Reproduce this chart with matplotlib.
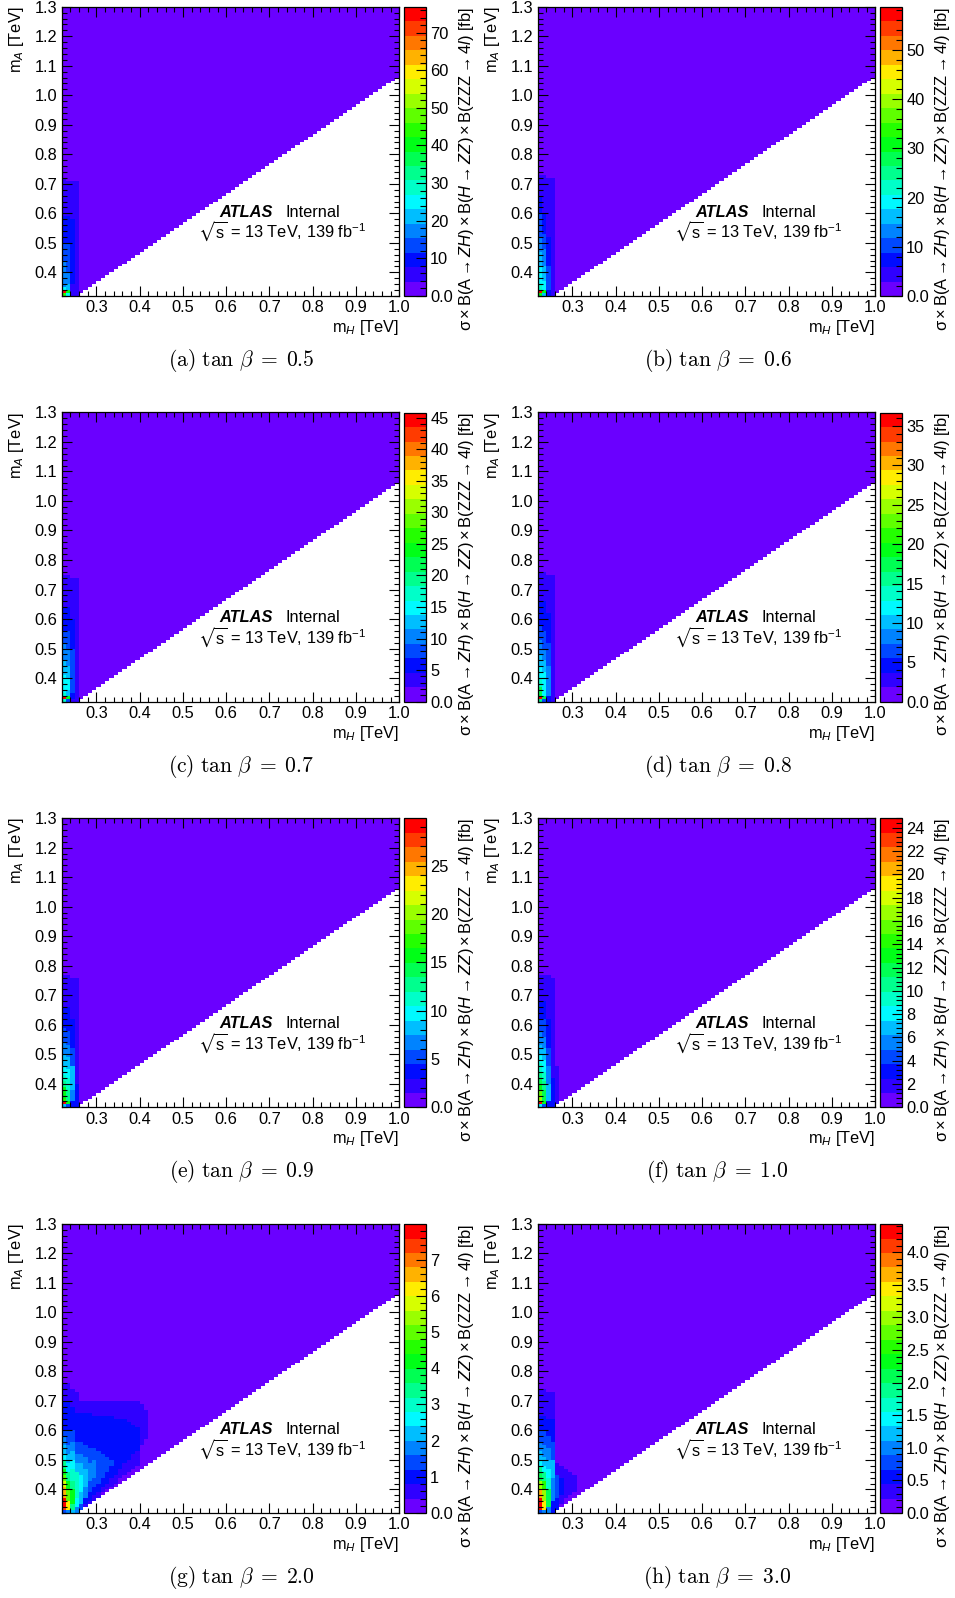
import numpy as np
import matplotlib
matplotlib.use("Agg")
import matplotlib.pyplot as plt
from matplotlib.colors import ListedColormap, BoundaryNorm, hsv_to_rgb
from matplotlib.ticker import MultipleLocator, FixedLocator

plt.rcParams['font.family'] = ['Liberation Sans', 'DejaVu Sans']
plt.rcParams['mathtext.fontset'] = 'custom'
plt.rcParams['mathtext.rm'] = 'Liberation Sans'
plt.rcParams['mathtext.it'] = 'Liberation Sans:italic'
plt.rcParams['mathtext.bf'] = 'Liberation Sans:bold'
plt.rcParams['mathtext.sf'] = 'Liberation Sans'
plt.rcParams['mathtext.fallback'] = 'stixsans'

# ---------------- data ----------------
TAGS = ['a', 'b', 'c', 'd', 'e', 'f', 'g', 'h']
TAN_BETA = ['0.5', '0.6', '0.7', '0.8', '0.9', '1.0', '2.0', '3.0']
Z_MAX = [76.8, 58.7, 45.8, 36.7, 29.9, 24.8, 7.98, 4.43]

CB_TICKS = [
    [0, 10, 20, 30, 40, 50, 60, 70],
    [0, 10, 20, 30, 40, 50],
    [0, 5, 10, 15, 20, 25, 30, 35, 40, 45],
    [0, 5, 10, 15, 20, 25, 30, 35],
    [0, 5, 10, 15, 20, 25],
    [0, 2, 4, 6, 8, 10, 12, 14, 16, 18, 20, 22, 24],
    [0, 1, 2, 3, 4, 5, 6, 7],
    [0, 0.5, 1.0, 1.5, 2.0, 2.5, 3.0, 3.5, 4.0],
]
CB_LABELS = [
    ['0.0', '10', '20', '30', '40', '50', '60', '70'],
    ['0.0', '10', '20', '30', '40', '50'],
    ['0.0', '5', '10', '15', '20', '25', '30', '35', '40', '45'],
    ['0.0', '5', '10', '15', '20', '25', '30', '35'],
    ['0.0', '5', '10', '15', '20', '25'],
    ['0.0', '2', '4', '6', '8', '10', '12', '14', '16', '18', '20', '22', '24'],
    ['0.0', '1', '2', '3', '4', '5', '6', '7'],
    ['0.0', '0.5', '1.0', '1.5', '2.0', '2.5', '3.0', '3.5', '4.0'],
]
CB_MINOR = [2, 2, 1, 1, 1, 0.4, 0.2, 0.1]

X_TICKS = [0.3, 0.4, 0.5, 0.6, 0.7, 0.8, 0.9, 1.0]
Y_TICKS = [0.4, 0.5, 0.6, 0.7, 0.8, 0.9, 1.0, 1.1, 1.2, 1.3]

# grid of the 2D histogram (TeV)
MH_EDGES = np.round(0.22 + 0.01 * np.arange(79), 3)
MA_EDGES = np.round(0.32 + 0.01 * np.arange(99), 3)
MASS_GAP = 0.065   # minimal m_A - m_H of filled cells

# column profiles: (m_H low edge, [(m_A upper edge, value in fb), ...]); rest is ~0
PROFILE_A = [
    (0.22, [(0.33, 44.0), (0.34, 75.0), (0.35, 25.0), (0.44, 19.0), (0.50, 13.4), (0.59, 9.6), (0.72, 5.8)]),
    (0.23, [(0.33, 25.0), (0.34, 40.0), (0.36, 21.0), (0.40, 17.3), (0.50, 13.4), (0.59, 9.6), (0.71, 5.8)]),
    (0.24, [(0.36, 5.8), (0.58, 9.6), (0.71, 5.8)]),
    (0.25, [(0.71, 5.8)]),
]
PROFILE_B = [
    (0.22, [(0.33, 31.0), (0.34, 57.0), (0.36, 22.0), (0.42, 19.1), (0.47, 16.1), (0.52, 13.2), (0.60, 10.3), (0.66, 7.3), (0.73, 4.4)]),
    (0.23, [(0.33, 16.1), (0.34, 31.0), (0.37, 19.1), (0.42, 16.1), (0.48, 13.2), (0.53, 10.3), (0.60, 7.3), (0.73, 4.4)]),
    (0.24, [(0.34, 7.3), (0.42, 10.3), (0.52, 7.3), (0.72, 4.4)]),
    (0.25, [(0.72, 4.4)]),
]
PROFILE_C = [
    (0.22, [(0.33, 17.2), (0.34, 44.7), (0.35, 17.2), (0.41, 14.9), (0.46, 12.6), (0.52, 10.3), (0.56, 8.0), (0.64, 5.7), (0.75, 3.4)]),
    (0.23, [(0.33, 8.0), (0.34, 24.0), (0.36, 12.6), (0.40, 14.9), (0.44, 12.6), (0.50, 10.3), (0.56, 8.0), (0.64, 5.7), (0.75, 3.4)]),
    (0.24, [(0.33, 3.4), (0.35, 5.7), (0.50, 8.0), (0.60, 5.7), (0.74, 3.4)]),
    (0.25, [(0.74, 3.4)]),
]
PROFILE_D = [
    (0.22, [(0.33, 15.6), (0.34, 35.8), (0.37, 17.4), (0.40, 13.8), (0.44, 11.9), (0.48, 10.1), (0.53, 8.3), (0.58, 6.4), (0.66, 4.6), (0.76, 2.75)]),
    (0.23, [(0.33, 6.4), (0.34, 17.4), (0.42, 11.9), (0.46, 10.1), (0.50, 8.3), (0.56, 6.4), (0.66, 4.6), (0.76, 2.75)]),
    (0.24, [(0.34, 4.6), (0.44, 8.3), (0.52, 6.4), (0.62, 4.6), (0.75, 2.75)]),
    (0.25, [(0.75, 2.75)]),
]
PROFILE_E = [
    (0.22, [(0.33, 8.2), (0.34, 29.2), (0.35, 17.2), (0.39, 15.7), (0.41, 12.7), (0.43, 11.2), (0.46, 9.7), (0.50, 8.2), (0.54, 6.7), (0.59, 5.2), (0.66, 3.7), (0.77, 2.2)]),
    (0.23, [(0.33, 5.2), (0.34, 15.7), (0.38, 12.7), (0.42, 11.2), (0.45, 9.7), (0.49, 8.2), (0.53, 6.7), (0.58, 5.2), (0.66, 3.7), (0.77, 2.2)]),
    (0.24, [(0.34, 3.7), (0.38, 6.7), (0.46, 8.2), (0.52, 5.2), (0.62, 3.7), (0.76, 2.2)]),
    (0.25, [(0.40, 3.7), (0.76, 2.2)]),
]
PROFILE_F = [
    (0.22, [(0.33, 8.1), (0.34, 24.2), (0.36, 16.7), (0.38, 15.5), (0.40, 13.0), (0.42, 11.8), (0.44, 10.5), (0.47, 9.3), (0.50, 8.1), (0.53, 6.8), (0.58, 5.6), (0.62, 4.3), (0.68, 3.1), (0.77, 1.9)]),
    (0.23, [(0.33, 4.3), (0.34, 13.0), (0.38, 11.8), (0.41, 10.5), (0.44, 9.3), (0.48, 8.1), (0.52, 6.8), (0.56, 5.6), (0.62, 4.3), (0.68, 3.1), (0.77, 1.9)]),
    (0.24, [(0.34, 3.1), (0.40, 6.8), (0.46, 5.6), (0.52, 4.3), (0.62, 3.1), (0.77, 1.9)]),
    (0.25, [(0.42, 3.1), (0.76, 1.9)]),
    (0.26, [(0.46, 1.9)]),
]
PROFILE_G = [
    (0.22, [(0.33, 1.4), (0.34, 7.4), (0.37, 7.8), (0.41, 6.6), (0.43, 5.8), (0.45, 5.0), (0.47, 4.2), (0.50, 3.4), (0.52, 2.6), (0.55, 2.2), (0.58, 1.8), (0.60, 1.4), (0.70, 1.0), (0.76, 0.6)]),
    (0.23, [(0.33, 1.8), (0.36, 6.2), (0.40, 5.0), (0.43, 4.2), (0.46, 3.4), (0.49, 2.6), (0.52, 2.2), (0.55, 1.8), (0.60, 1.4), (0.70, 1.0), (0.76, 0.6)]),
    (0.24, [(0.33, 2.2), (0.35, 3.4), (0.40, 4.2), (0.43, 3.4), (0.47, 3.0), (0.50, 2.6), (0.53, 2.2), (0.56, 1.8), (0.60, 1.4), (0.68, 1.0), (0.74, 0.6)]),
    (0.25, [(0.34, 1.8), (0.37, 2.6), (0.42, 3.0), (0.46, 2.8), (0.49, 2.2), (0.52, 1.8), (0.56, 1.4), (0.66, 1.0), (0.73, 0.6)]),
    (0.26, [(0.35, 1.4), (0.39, 2.2), (0.45, 2.6), (0.49, 2.2), (0.52, 1.8), (0.56, 1.4), (0.66, 1.0), (0.70, 0.6)]),
    (0.27, [(0.35, 0.6), (0.37, 1.0), (0.41, 1.8), (0.47, 2.2), (0.51, 1.8), (0.55, 1.4), (0.66, 1.0), (0.70, 0.6)]),
    (0.28, [(0.36, 0.6), (0.39, 1.0), (0.43, 1.4), (0.49, 1.8), (0.54, 1.4), (0.66, 1.0), (0.70, 0.6)]),
    (0.29, [(0.38, 0.6), (0.41, 1.0), (0.44, 1.4), (0.50, 1.8), (0.54, 1.4), (0.65, 1.0), (0.70, 0.6)]),
    (0.30, [(0.39, 0.6), (0.42, 1.0), (0.53, 1.4), (0.65, 1.0), (0.70, 0.6)]),
    (0.31, [(0.39, 0.0), (0.41, 0.6), (0.44, 1.0), (0.52, 1.4), (0.65, 1.0), (0.70, 0.6)]),
    (0.32, [(0.40, 0.0), (0.42, 0.6), (0.46, 1.0), (0.51, 1.4), (0.65, 1.0), (0.70, 0.6)]),
    (0.33, [(0.41, 0.0), (0.44, 0.6), (0.48, 1.0), (0.50, 1.4), (0.65, 1.0), (0.70, 0.6)]),
    (0.34, [(0.42, 0.0), (0.45, 0.6), (0.64, 1.0), (0.70, 0.6)]),
    (0.35, [(0.44, 0.0), (0.47, 0.6), (0.64, 1.0), (0.70, 0.6)]),
    (0.36, [(0.45, 0.0), (0.49, 0.6), (0.64, 1.0), (0.70, 0.6)]),
    (0.37, [(0.46, 0.0), (0.50, 0.6), (0.63, 1.0), (0.70, 0.6)]),
    (0.38, [(0.47, 0.0), (0.52, 0.6), (0.62, 1.0), (0.70, 0.6)]),
    (0.39, [(0.48, 0.0), (0.53, 0.6), (0.61, 1.0), (0.70, 0.6)]),
    (0.40, [(0.49, 0.0), (0.55, 0.0), (0.69, 0.6)]),
    (0.41, [(0.50, 0.0), (0.57, 0.0), (0.67, 0.6)]),
]
PROFILE_H = [
    (0.22, [(0.33, 0.78), (0.37, 4.32), (0.40, 3.65), (0.43, 3.1), (0.46, 2.2), (0.48, 1.8), (0.50, 1.44), (0.53, 1.22), (0.56, 1.0), (0.60, 0.78), (0.65, 0.55), (0.74, 0.33)]),
    (0.23, [(0.33, 1.0), (0.36, 3.43), (0.40, 2.99), (0.43, 2.55), (0.46, 1.88), (0.48, 1.44), (0.51, 1.22), (0.55, 1.0), (0.60, 0.78), (0.65, 0.55), (0.74, 0.33)]),
    (0.24, [(0.34, 1.0), (0.40, 2.1), (0.44, 1.66), (0.47, 1.44), (0.50, 1.22), (0.54, 1.0), (0.58, 0.78), (0.64, 0.55), (0.73, 0.33)]),
    (0.25, [(0.36, 0.55), (0.44, 1.0), (0.50, 1.22), (0.56, 0.78), (0.64, 0.55), (0.73, 0.33)]),
    (0.26, [(0.37, 0.55), (0.45, 0.78), (0.49, 0.33)]),
    (0.27, [(0.35, 0.0), (0.38, 0.33), (0.44, 0.55), (0.48, 0.33)]),
    (0.28, [(0.37, 0.0), (0.47, 0.33)]),
    (0.29, [(0.38, 0.0), (0.46, 0.33)]),
    (0.30, [(0.39, 0.0), (0.45, 0.33)]),
]
PROFILES = [PROFILE_A, PROFILE_B, PROFILE_C, PROFILE_D, PROFILE_E, PROFILE_F, PROFILE_G, PROFILE_H]

CB_LABEL = (r"$\mathrm{σ}\times\mathrm{B}(\mathrm{A}\rightarrow\mathit{ZH})\times"
            r"\mathrm{B}(\mathit{H}\rightarrow\mathit{ZZ})\times"
            r"\mathrm{B}(\mathrm{ZZZ}\rightarrow\mathrm{4}\mathit{l})$ [fb]")

# ---------------- figure ----------------
W, H = 955, 1598
fig = plt.figure(figsize=(W / 100, H / 100), dpi=100)


def rect(l, t, r, b):
    return [l / W, 1 - b / H, (r - l) / W, (b - t) / H]


def fpos(x, y):
    return x / W, 1 - y / H


hues = np.linspace(265, 0, 20) / 360.0
cmap = ListedColormap(hsv_to_rgb(np.stack([hues, np.ones(20), np.ones(20)], axis=1)))

xc = 0.5 * (MH_EDGES[:-1] + MH_EDGES[1:])
yc = 0.5 * (MA_EDGES[:-1] + MA_EDGES[1:])


def build(profile):
    z = np.zeros((len(yc), len(xc)))
    for mh_lo, segs in profile:
        i = int(round((mh_lo - MH_EDGES[0]) / 0.01))
        for j, y in enumerate(yc):
            for hi, v in segs:
                if y < hi:
                    z[j, i] = v
                    break
    allowed = yc[:, None] >= xc[None, :] + MASS_GAP - 1e-9
    return np.ma.masked_where(~allowed, z)


FS = 11.8
for k in range(8):
    r, c = divmod(k, 2)
    ox, oy = c * 476.0, r * 405.7
    ax = fig.add_axes(rect(61.7 + ox, 6.7 + oy, 399.3 + ox, 296.0 + oy))
    norm = BoundaryNorm(np.linspace(0, Z_MAX[k], 21), 20)
    z = build(PROFILES[k])
    mesh = ax.pcolormesh(MH_EDGES, MA_EDGES, z, cmap=cmap, norm=norm,
                         shading='flat', edgecolors='none', antialiased=False)
    ax.set_xlim(MH_EDGES[0], MH_EDGES[-1])
    ax.set_ylim(MA_EDGES[0], MA_EDGES[-1])
    ax.xaxis.set_major_locator(FixedLocator(X_TICKS))
    ax.yaxis.set_major_locator(FixedLocator(Y_TICKS))
    ax.set_xticklabels([f"{v:.1f}" for v in X_TICKS])
    ax.set_yticklabels([f"{v:.1f}" for v in Y_TICKS])
    ax.xaxis.set_minor_locator(MultipleLocator(0.02))
    ax.yaxis.set_minor_locator(MultipleLocator(0.02))
    ax.tick_params(which='both', direction='in', top=True, right=True,
                   labelsize=FS, width=0.8, pad=3)
    ax.tick_params(which='major', length=7)
    ax.tick_params(which='minor', length=3.5)
    for s in ax.spines.values():
        s.set_linewidth(0.9)

    # axis titles
    x, y = fpos(399.3 + ox, 332 + oy)
    fig.text(x, y, r"m$_{\mathit{H}}$ [TeV]", ha='right', va='baseline', fontsize=FS)
    x, y = fpos(16.5 + ox, 6.7 + oy)
    fig.text(x, y, r"m$_{\mathit{A}}$ [TeV]", ha='center', va='top', rotation=90, fontsize=FS)

    # ATLAS label
    ax.text(0.466, 0.290, "ATLAS", transform=ax.transAxes, fontsize=FS,
            fontweight='bold', fontstyle='italic', va='center', ha='left')
    ax.text(0.663, 0.290, "Internal", transform=ax.transAxes, fontsize=FS,
            va='center', ha='left')
    ax.text(0.404, 0.220, r"$\sqrt{\mathrm{s}}$ = 13 TeV, 139 fb$^{-1}$",
            transform=ax.transAxes, fontsize=FS, va='center', ha='left')

    # colour bar
    cax = fig.add_axes(rect(404 + ox, 7 + oy, 426 + ox, 296 + oy))
    cb = fig.colorbar(mesh, cax=cax)
    cb.set_ticks(CB_TICKS[k])
    cb.set_ticklabels(CB_LABELS[k])
    cax.yaxis.set_minor_locator(MultipleLocator(CB_MINOR[k]))
    cax.tick_params(which='both', direction='in', right=True, left=False,
                    labelsize=FS, width=0.8, pad=3)
    cax.tick_params(which='major', length=7)
    cax.tick_params(which='minor', length=4)
    cb.outline.set_linewidth(0.9)
    x, y = fpos(466 + ox, 6.7 + oy)
    fig.text(x, y, CB_LABEL, ha='center', va='top', rotation=90, fontsize=11.9)

    # caption
    x, y = fpos(241.5 + ox, 360.5 + oy)
    fig.text(x, y, r"$\mathrm{(%s)}\ \tan\,\beta\;=\;%s$" % (TAGS[k], TAN_BETA[k]),
             ha='center', va='center', fontsize=15.5, math_fontfamily='cm')

fig.savefig("out.png", dpi=100)
